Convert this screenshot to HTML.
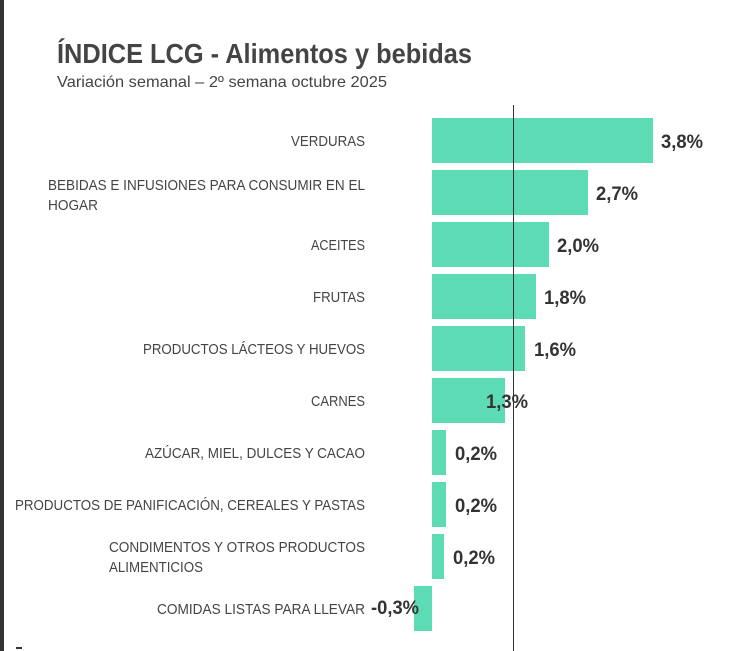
<!DOCTYPE html>
<html><head><meta charset="utf-8"><style>
html,body{margin:0;padding:0;background:#fff;}
svg{display:block;font-family:"Liberation Sans",sans-serif;}
</style></head><body>
<svg width="730" height="651" viewBox="0 0 730 651">
<rect x="0" y="0" width="4" height="651" fill="#333"/>
<text x="57" y="63" font-size="28" font-weight="bold" fill="#444" textLength="415" lengthAdjust="spacingAndGlyphs">ÍNDICE LCG - Alimentos y bebidas</text>
<text x="57" y="87" font-size="16" fill="#444" textLength="330" lengthAdjust="spacingAndGlyphs">Variación semanal – 2º semana octubre 2025</text>
<g fill="#5ddbb5">
<rect x="432" y="118" width="221" height="45"/>
<rect x="432" y="170" width="156" height="45"/>
<rect x="432" y="222" width="117" height="45"/>
<rect x="432" y="274" width="104" height="45"/>
<rect x="432" y="326" width="93" height="45"/>
<rect x="432" y="378" width="73" height="45"/>
<rect x="432" y="430" width="14" height="45"/>
<rect x="432" y="482" width="14" height="45"/>
<rect x="432" y="534" width="12" height="45"/>
<rect x="414" y="586" width="18" height="45"/>
</g>
<line x1="513.5" y1="105" x2="513.5" y2="651" stroke="#333" stroke-width="1"/>
<g font-size="14.5" fill="#444">
<text x="365" y="146" text-anchor="end" textLength="74" lengthAdjust="spacingAndGlyphs">VERDURAS</text>
<text x="48" y="190" textLength="317" lengthAdjust="spacingAndGlyphs">BEBIDAS E INFUSIONES PARA CONSUMIR EN EL</text>
<text x="48" y="210" textLength="50" lengthAdjust="spacingAndGlyphs">HOGAR</text>
<text x="365" y="250" text-anchor="end" textLength="54" lengthAdjust="spacingAndGlyphs">ACEITES</text>
<text x="365" y="302" text-anchor="end" textLength="52" lengthAdjust="spacingAndGlyphs">FRUTAS</text>
<text x="365" y="354" text-anchor="end" textLength="222" lengthAdjust="spacingAndGlyphs">PRODUCTOS LÁCTEOS Y HUEVOS</text>
<text x="365" y="406" text-anchor="end" textLength="54" lengthAdjust="spacingAndGlyphs">CARNES</text>
<text x="365" y="458" text-anchor="end" textLength="220" lengthAdjust="spacingAndGlyphs">AZÚCAR, MIEL, DULCES Y CACAO</text>
<text x="365" y="510" text-anchor="end" textLength="350" lengthAdjust="spacingAndGlyphs">PRODUCTOS DE PANIFICACIÓN, CEREALES Y PASTAS</text>
<text x="109" y="552" textLength="256" lengthAdjust="spacingAndGlyphs">CONDIMENTOS Y OTROS PRODUCTOS</text>
<text x="109" y="572" textLength="94" lengthAdjust="spacingAndGlyphs">ALIMENTICIOS</text>
<text x="365" y="614" text-anchor="end" textLength="208" lengthAdjust="spacingAndGlyphs">COMIDAS LISTAS PARA LLEVAR</text>
</g>
<g font-size="19" font-weight="bold" fill="#333">
<text x="661" y="148" textLength="42" lengthAdjust="spacingAndGlyphs">3,8%</text>
<text x="596" y="200" textLength="42" lengthAdjust="spacingAndGlyphs">2,7%</text>
<text x="557" y="252" textLength="42" lengthAdjust="spacingAndGlyphs">2,0%</text>
<text x="544" y="304" textLength="42" lengthAdjust="spacingAndGlyphs">1,8%</text>
<text x="534" y="356" textLength="42" lengthAdjust="spacingAndGlyphs">1,6%</text>
<text x="486" y="408" textLength="42" lengthAdjust="spacingAndGlyphs">1,3%</text>
<text x="455" y="460" textLength="42" lengthAdjust="spacingAndGlyphs">0,2%</text>
<text x="455" y="512" textLength="42" lengthAdjust="spacingAndGlyphs">0,2%</text>
<text x="453" y="564" textLength="42" lengthAdjust="spacingAndGlyphs">0,2%</text>
<text x="371" y="614" textLength="48" lengthAdjust="spacingAndGlyphs">-0,3%</text>
</g>
<rect x="16" y="647" width="6" height="2" fill="#333"/>
</svg>
</body></html>
